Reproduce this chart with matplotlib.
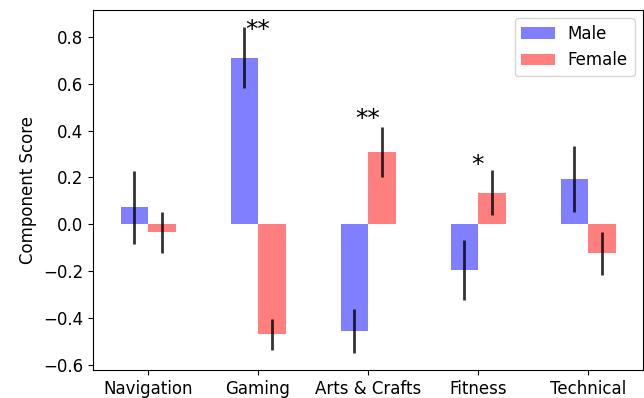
import numpy as np
import matplotlib
matplotlib.use("Agg")
import matplotlib.pyplot as plt

plt.rcParams["font.size"] = 12

categories = ["Navigation", "Gaming", "Arts & Crafts", "Fitness", "Technical"]
male = [0.072, 0.710, -0.455, -0.195, 0.192]
female = [-0.034, -0.469, 0.310, 0.135, -0.124]
male_err = [0.155, 0.130, 0.092, 0.128, 0.140]
female_err = [0.087, 0.066, 0.107, 0.096, 0.091]
stars = ["", "**", "**", "*", ""]
star_y = [None, 0.797, 0.418, 0.222, None]

fig = plt.figure(figsize=(6.44, 3.98), dpi=100)
ax = fig.add_axes([93 / 644, 28 / 398, 550 / 644, 360 / 398])

x = np.arange(len(categories))
w = 0.25
err_kw = dict(ecolor=(0, 0, 0, 0.8), elinewidth=2)
ax.bar(x - w / 2, male, w, yerr=male_err, color="blue", alpha=0.5,
       label="Male", error_kw=err_kw)
ax.bar(x + w / 2, female, w, yerr=female_err, color="red", alpha=0.5,
       label="Female", error_kw=err_kw)

for xi, s, yi in zip(x, stars, star_y):
    if s:
        ax.text(xi, yi, s, ha="center", va="baseline", fontsize=18)

ax.set_xlim(-0.5, 4.5)
ax.set_ylim(-0.621, 0.914)
ax.set_xticks(x)
ax.set_xticklabels(categories)
ax.set_yticks([-0.6, -0.4, -0.2, 0.0, 0.2, 0.4, 0.6, 0.8])
ax.set_ylabel("Component Score")
ax.legend(loc="upper right")

fig.savefig("out.png", dpi=100)
